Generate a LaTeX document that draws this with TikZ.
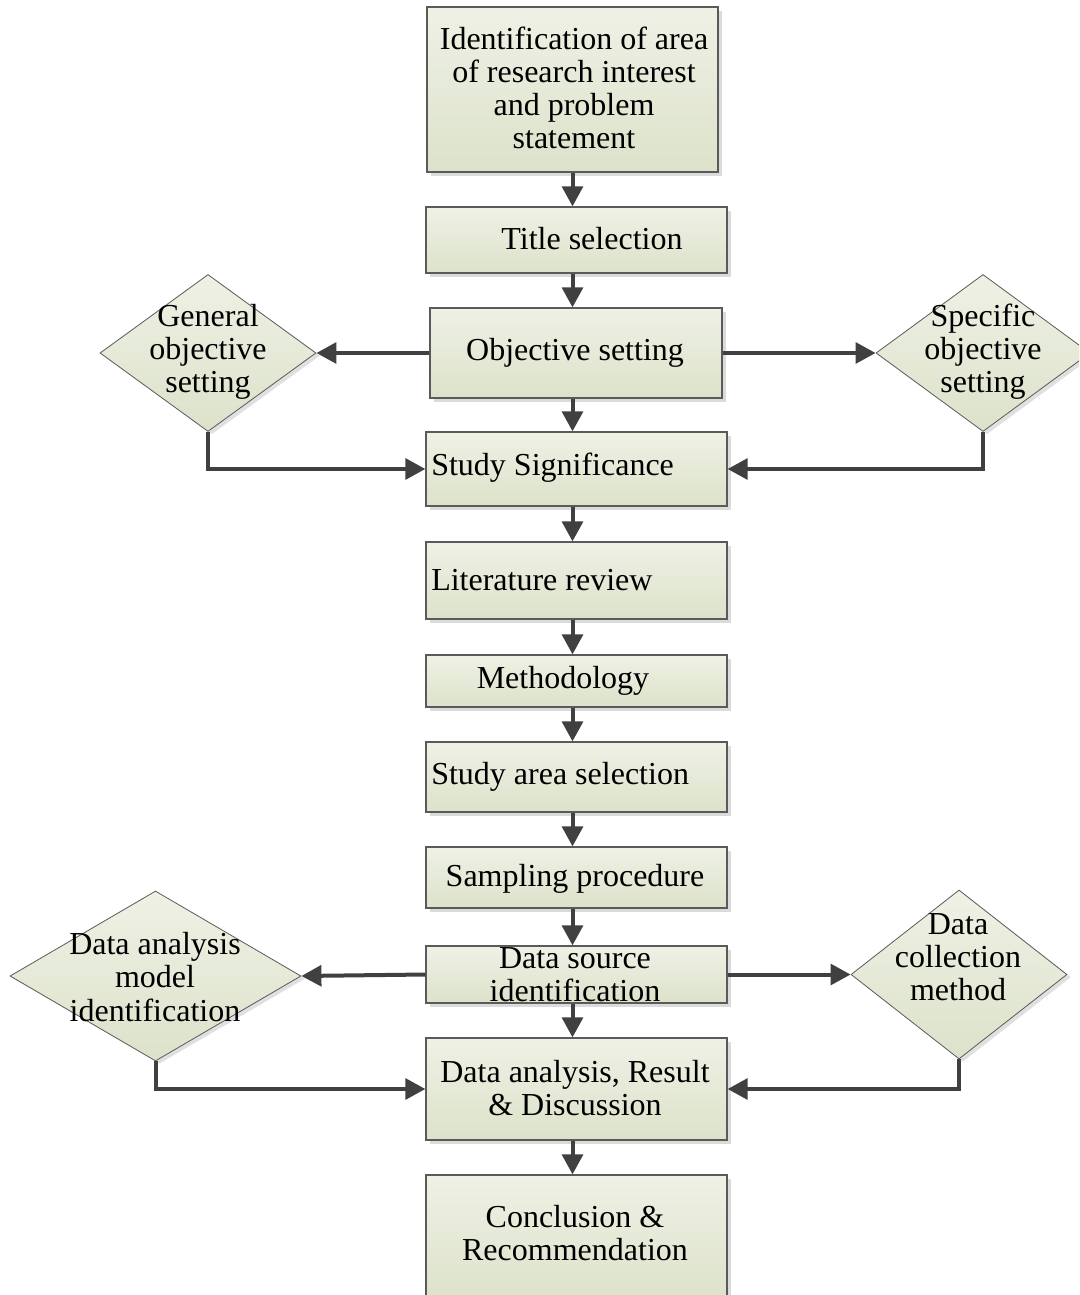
\documentclass[tikz,border=0pt]{standalone}
\usepackage{fontspec}
\setmainfont{Liberation Serif}
\usetikzlibrary{arrows.meta,shapes.geometric,shadows}
\definecolor{boxtop}{HTML}{EFF1E5}
\definecolor{boxbot}{HTML}{DCE2CA}
\definecolor{edge}{HTML}{5A5A5A}
\definecolor{link}{HTML}{404040}
\tikzset{
  stepbox/.style={rectangle, draw=edge, line width=0.9pt, inner sep=0pt,
    top color=boxtop, bottom color=boxbot,
    drop shadow={shadow xshift=3pt, shadow yshift=-3pt, fill=black!14, opacity=1}},
  choice/.style={diamond, draw=edge, line width=0.6pt, inner sep=0pt,
    top color=boxtop, bottom color=boxbot,
    drop shadow={shadow xshift=3pt, shadow yshift=-2pt, fill=black!12, opacity=1}},
  flow/.style={draw=link, line width=3pt, -{Triangle[length=15pt,width=15.5pt]}},
  txt/.style={inner sep=0pt, align=center, font=\fontsize{24}{24.8}\selectfont}
}
\begin{document}
\begin{tikzpicture}[x=0.75pt,y=-0.75pt]
\useasboundingbox (0,0) rectangle (1079,1295);
\begin{scope}
\clip (0,0) rectangle (1079,1295);
% main column of steps
\node[stepbox, minimum width=218.25pt, minimum height=123.75pt] (b1) at (572.5,89.5) {};
\node[stepbox, minimum width=225.75pt, minimum height=49.5pt] (b2) at (576.5,240) {};
\node[stepbox, minimum width=219pt, minimum height=67.5pt] (b3) at (576,353) {};
\node[stepbox, minimum width=225.75pt, minimum height=55.5pt] (b4) at (576.5,469) {};
\node[stepbox, minimum width=225.75pt, minimum height=57.75pt] (b5) at (576.5,580.5) {};
\node[stepbox, minimum width=225.75pt, minimum height=39pt] (b6) at (576.5,681) {};
\node[stepbox, minimum width=225.75pt, minimum height=52.5pt] (b7) at (576.5,777) {};
\node[stepbox, minimum width=225.75pt, minimum height=45.75pt] (b8) at (576.5,877.5) {};
\node[stepbox, minimum width=225.75pt, minimum height=42.75pt] (b9) at (576.5,974.5) {};
\node[stepbox, minimum width=225.75pt, minimum height=76.5pt] (b10) at (576.5,1089) {};
\node[stepbox, minimum width=225.75pt, minimum height=93.75pt] (b11) at (576.5,1237.5) {};
% side decisions
\node[choice, minimum width=162pt, minimum height=117.75pt] (gen) at (208,353) {};
\node[choice, minimum width=160.5pt, minimum height=117.75pt] (spec) at (983,353) {};
\node[choice, minimum width=218.25pt, minimum height=127.5pt] (model) at (155.5,976) {};
\node[choice, minimum width=162pt, minimum height=126.75pt] (coll) at (959,974.5) {};
% vertical flow
\foreach \a/\b in {b1/b2,b2/b3,b3/b4,b4/b5,b5/b6,b6/b7,b7/b8,b8/b9,b9/b10,b10/b11}
  \draw[flow] (\a.south -| b1.south) -- (b1.south |- \b.north);
% side branches
\draw[flow] (b3.west) -- (gen.east);
\draw[flow] (b3.east) -- (spec.west);
\draw[flow] (gen.south) |- (b4.west);
\draw[flow] (spec.south) |- (b4.east);
\draw[flow] (b9.west) -- (model.east);
\draw[flow] (b9.east) -- (coll.west);
\draw[flow] (model.south) |- (b10.west);
\draw[flow] (coll.south) |- (b10.east);
% texts
\node[txt] (t1) at (574,88) {Identification of area\\of research interest\\and problem\\statement};
\node[txt] (t2) at (592,239) {Title selection};
\node[txt] (t3) at (575,353) {Objective setting};
\node[txt, anchor=west] (t4) at (431,468) {Study Significance};
\node[txt, anchor=west] (t5) at (431,580) {Literature review};
\node[txt] (t6) at (563,681) {Methodology};
\node[txt, anchor=west] (t7) at (431,777) {Study area selection};
\node[txt] (t8) at (575,879) {Sampling procedure};
\node[txt] (t9) at (575,975) {Data source\\identification};
\node[txt] (t10) at (575,1088) {Data analysis, Result\\\& Discussion};
\node[txt] (t11) at (575,1233) {Conclusion \&\\Recommendation};
\node[txt] (t12) at (208,352) {General\\objective\\setting};
\node[txt] (t13) at (983,352) {Specific\\objective\\setting};
\node[txt] (t14) at (155,977) {Data analysis\\model\\identification};
\node[txt] (t15) at (958,957) {Data\\collection\\method};
\end{scope}
\end{tikzpicture}
\end{document}
